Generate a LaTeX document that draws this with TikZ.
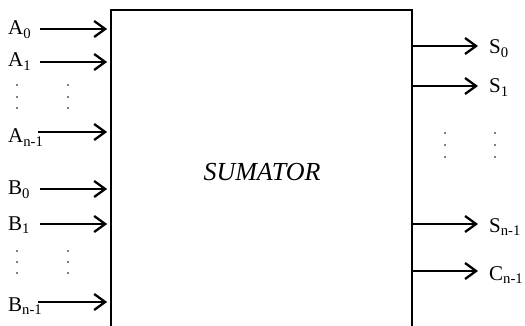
\documentclass[tikz,border=0pt]{standalone}
\usepackage{fontspec}
\setmainfont{Liberation Serif}
\usetikzlibrary{arrows.meta}

\begin{document}
\begin{tikzpicture}[
    x=1pt, y=-1pt,
    sumbox/.style = {rectangle, draw=black, line width=2.8pt, minimum width=301pt, minimum height=330pt, inner sep=0pt},
    lbl/.style = {inner sep=0pt, font=\fontsize{21}{23}\selectfont},
    title/.style = {inner sep=0pt, font=\fontsize{26}{28}\selectfont\itshape},
    sig/.style = {draw, line width=2.3pt, -{Straight Barb[length=11pt, width=16pt]}},
]
\useasboundingbox (0,0) rectangle (525,326);
\clip (0,0) rectangle (525,326);

% Adder block (open at the bottom edge of the page)
\node [sumbox] (sum) at (261.5,175) {};
\node [title, anchor=base] (name) at (262,181) {SUMATOR};

% Input A
\node [lbl, anchor=base west] (la0) at (8,35) {A\textsubscript{0}};
\node [lbl, anchor=base west] (la1) at (8,67) {A\textsubscript{1}};
\node [lbl, anchor=base west] (lan) at (8,143) {A\textsubscript{n-1}};
\coordinate (a0) at (40,29);
\coordinate (a1) at (40,62);
\coordinate (an) at (38,132);

% Input B
\node [lbl, anchor=base west] (lb0) at (8,195) {B\textsubscript{0}};
\node [lbl, anchor=base west] (lb1) at (8,230) {B\textsubscript{1}};
\node [lbl, anchor=base west] (lbn) at (8,311) {B\textsubscript{n-1}};
\coordinate (b0) at (40,189);
\coordinate (b1) at (40,224);
\coordinate (bn) at (38,302);

% Outputs
\coordinate (s0) at (478,46);
\coordinate (s1) at (478,86);
\coordinate (sn) at (478,224);
\coordinate (cn) at (478,271);
\node [lbl, anchor=base west] (ls0) at (489,54) {S\textsubscript{0}};
\node [lbl, anchor=base west] (ls1) at (489,93) {S\textsubscript{1}};
\node [lbl, anchor=base west] (lsn) at (489,232) {S\textsubscript{n-1}};
\node [lbl, anchor=base west] (lcn) at (489,280) {C\textsubscript{n-1}};

% Paths
\path [sig, shorten >=2.5pt] (a0) -- (a0 -| sum.west);
\path [sig, shorten >=2.5pt] (a1) -- (a1 -| sum.west);
\path [sig, shorten >=2.5pt] (an) -- (an -| sum.west);
\path [sig, shorten >=2.5pt] (b0) -- (b0 -| sum.west);
\path [sig, shorten >=2.5pt] (b1) -- (b1 -| sum.west);
\path [sig, shorten >=2.5pt] (bn) -- (bn -| sum.west);

\path [sig] (s0 -| sum.east) -- (s0);
\path [sig] (s1 -| sum.east) -- (s1);
\path [sig] (sn -| sum.east) -- (sn);
\path [sig] (cn -| sum.east) -- (cn);

% Dots
\foreach \x in {17,68} {
    \foreach \y in {85,97,108,251,262,273}
        \fill (\x,\y) circle (0.9pt);
}
\foreach \x in {445,495} {
    \foreach \y in {133,145,157}
        \fill (\x,\y) circle (0.9pt);
}

\end{tikzpicture}
\end{document}
